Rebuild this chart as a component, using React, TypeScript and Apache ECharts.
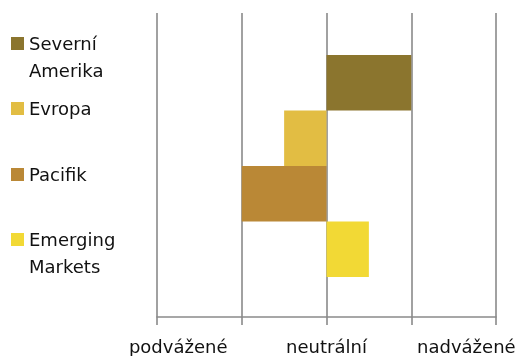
import React, { useEffect, useRef } from "react";
import * as echarts from "echarts";

const regions = ["Severní Amerika", "Evropa", "Pacifik", "Emerging Markets"];
const legendLabels = ["Severní\nAmerika", "Evropa", "Pacifik", "Emerging\nMarkets"];
const values = [1, -0.5, -1, 0.5];
const colors = ["#8B752E", "#E2BD43", "#BA8836", "#F2D935"];
const tickLabels = ["podvážené", "neutrální", "nadvážené"];
const tickLabelValues = [-1.75, 0, 1.65];

const FONT = "'DejaVu Sans', sans-serif";
const LINE = "#8a8a8a";

export default function App() {
  const ref = useRef<HTMLDivElement>(null);
  useEffect(() => {
    if (!ref.current) return;
    const chart = echarts.init(ref.current, undefined, { renderer: "svg" });
    const legendCenters = [43.5, 108.5, 174.5, 239.5];
    const graphic: any[] = [];
    legendLabels.forEach((lab, i) => {
      graphic.push({
        type: "rect",
        shape: { x: 11, y: legendCenters[i] - 6.5, width: 13, height: 13 },
        style: { fill: colors[i] },
      });
      graphic.push({
        type: "text",
        x: 29,
        y: legendCenters[i] - 14,
        style: {
          text: lab,
          fontFamily: FONT,
          fontSize: 18,
          lineHeight: 27,
          fill: "#111",
          verticalAlign: "top",
        },
      });
    });
    chart.setOption({
      animation: false,
      grid: [
        { left: 157, right: 19, top: 13, bottom: 39, outerBoundsMode: "none" },
        { left: 157, right: 19, top: 55, height: 222, outerBoundsMode: "none" },
      ],
      xAxis: [
        {
          gridIndex: 0,
          type: "value",
          min: -2,
          max: 2,
          interval: 1,
          axisLine: { show: true, lineStyle: { color: LINE, width: 1.6 } },
          axisTick: { show: true, length: 8, lineStyle: { color: LINE, width: 1.6 } },
          splitLine: { show: true, lineStyle: { color: LINE, width: 1.6 } },
          axisLabel: {
            customValues: tickLabelValues,
            formatter: (v: number) => {
              const idx = tickLabelValues.findIndex((t) => Math.abs(t - v) < 1e-6);
              return idx >= 0 ? tickLabels[idx] : "";
            },
            margin: 20,
            fontFamily: FONT,
            fontSize: 18,
            color: "#111",
          },
        },
        { gridIndex: 1, type: "value", min: -2, max: 2, show: false },
      ],
      yAxis: [
        { gridIndex: 0, type: "value", show: false },
        {
          gridIndex: 1,
          type: "category",
          data: regions,
          inverse: true,
          show: false,
        },
      ],
      series: regions.map((name, i) => ({
        name,
        type: "bar",
        xAxisIndex: 1,
        yAxisIndex: 1,
        stack: "all",
        barCategoryGap: "0%",
        itemStyle: { color: colors[i] },
        data: regions.map((_, j) => (j === i ? values[i] : "-")),
      })),
      graphic,
    });
    return () => chart.dispose();
  }, []);
  return (
    <div
      ref={ref}
      style={{ position: "fixed", left: 0, top: 0, width: 515, height: 356 }}
    />
  );
}
